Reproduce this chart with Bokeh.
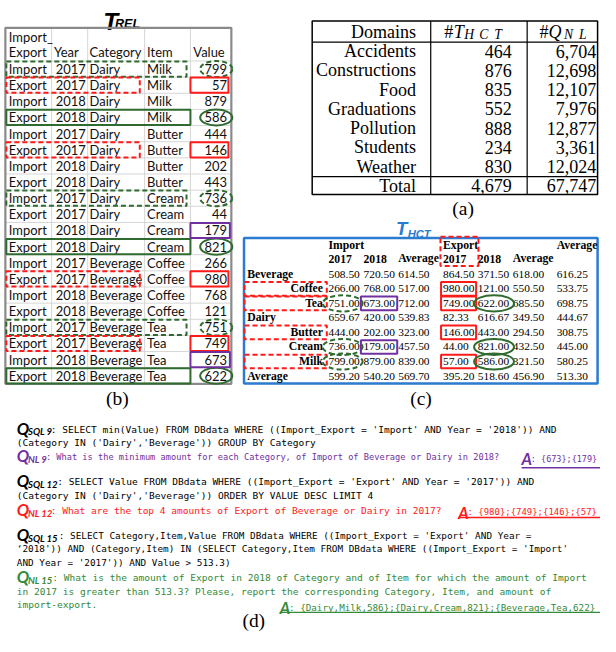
from bokeh.plotting import figure
from bokeh.models import ColumnDataSource, Range1d
from bokeh.core.properties import value
from bokeh.embed import file_html
from bokeh.resources import INLINE

# ---------------- data: T_REL ----------------
rel_flow = ["Import", "Export", "Import", "Export", "Import", "Export", "Import", "Export",
            "Import", "Export", "Import", "Export", "Import", "Export", "Import", "Export",
            "Import", "Export", "Import", "Export"]
rel_year = [2017, 2017, 2018, 2018, 2017, 2017, 2018, 2018, 2017, 2017,
            2018, 2018, 2017, 2017, 2018, 2018, 2017, 2017, 2018, 2018]
rel_category = ["Dairy", "Dairy", "Dairy", "Dairy", "Dairy", "Dairy", "Dairy", "Dairy",
                "Dairy", "Dairy", "Dairy", "Dairy", "Beverage", "Beverage", "Beverage",
                "Beverage", "Beverage", "Beverage", "Beverage", "Beverage"]
rel_item = ["Milk", "Milk", "Milk", "Milk", "Butter", "Butter", "Butter", "Butter",
            "Cream", "Cream", "Cream", "Cream", "Coffee", "Coffee", "Coffee", "Coffee",
            "Tea", "Tea", "Tea", "Tea"]
rel_value = [799, 57, 879, 586, 444, 146, 202, 443, 736, 44,
             179, 821, 266, 980, 768, 121, 751, 749, 673, 622]
rel_headers = ["Year", "Category", "Item", "Value"]
rel_green_dash_rows = [0, 8, 16]
rel_red_rows = [1, 5, 13, 17]
rel_green_rows = [3, 11, 19]
rel_purple_rows = [10, 18]

# ---------------- data: T_HCT ----------------
hct_rows = ["Beverage", "Coffee", "Tea", "Dairy", "Butter", "Cream", "Milk", "Average"]
hct_row_is_group = [True, False, False, True, False, False, False, True]
hct_top_headers = ["Import", "Export", "Average"]
hct_top_cols = [0, 3, 6]
hct_sub_headers = ["2017", "2018", "Average", "2017", "2018", "Average"]
hct_values = [
    [508.50, 720.50, 614.50, 864.50, 371.50, 618.00, 616.25],
    [266.00, 768.00, 517.00, 980.00, 121.00, 550.50, 533.75],
    [751.00, 673.00, 712.00, 749.00, 622.00, 685.50, 698.75],
    [659.67, 420.00, 539.83, 82.33, 616.67, 349.50, 444.67],
    [444.00, 202.00, 323.00, 146.00, 443.00, 294.50, 308.75],
    [736.00, 179.00, 457.50, 44.00, 821.00, 432.50, 445.00],
    [799.00, 879.00, 839.00, 57.00, 586.00, 321.50, 580.25],
    [599.20, 540.20, 569.70, 395.20, 518.60, 456.90, 513.30],
]
hct_red_rows = [1, 2, 4, 6]
hct_green_rows = [2, 5, 6]
hct_purple_rows = [2, 5]

# ---------------- data: table (a) ----------------
dom_names = ["Accidents", "Constructions", "Food", "Graduations", "Pollution", "Students", "Weather"]
dom_thct = [464, 876, 835, 552, 888, 234, 830]
dom_qnl = [6704, 12698, 12107, 7976, 12877, 3361, 12024]
dom_total_thct = 4679
dom_total_qnl = 67747

# ---------------- data: queries (d) ----------------
sql9 = ["SELECT min(Value) FROM DBdata WHERE ((Import_Export = 'Import' AND Year = '2018')) AND",
        "(Category IN ('Dairy','Beverage')) GROUP BY Category"]
nl9 = ["What is the minimum amount for each Category, of Import of Beverage or Dairy in 2018?"]
ans9 = "{673};{179}"
sql12 = ["SELECT Value FROM DBdata WHERE ((Import_Export = 'Export' AND Year = '2017')) AND",
         "(Category IN ('Dairy','Beverage')) ORDER BY VALUE DESC LIMIT 4"]
nl12 = ["What are the top 4 amounts of Export of Beverage or Dairy in 2017?"]
ans12 = "{980};{749};{146};{57}"
sql15 = ["SELECT Category,Item,Value FROM DBdata WHERE ((Import_Export = 'Export' AND Year =",
         "\u20182018')) AND (Category,Item) IN (SELECT Category,Item FROM DBdata WHERE ((Import_Export = 'Import'",
         "AND Year = '2017')) AND Value > 513.3)"]
nl15 = ["What is the amount of Export in 2018 of Category and of Item for which the amount of Import",
        "in 2017 is greater than 513.3? Please, report the corresponding Category, Item, and amount of",
        "import-export."]
ans15 = "{Dairy,Milk,586};{Dairy,Cream,821};{Beverage,Tea,622}"

# ---------------- figure ----------------
W, H = 600, 636
REF_W, REF_H = 616, 652
S = W / REF_W

p = figure(width=W, height=H, x_range=Range1d(0, REF_W), y_range=Range1d(REF_H, 0),
           output_backend="svg", toolbar_location=None, min_border=0,
           x_axis_location=None, y_axis_location=None)
p.xgrid.visible = False
p.ygrid.visible = False
p.outline_line_color = None
p.background_fill_color = "white"

SANS = "Lato"
SERIF = "Liberation Serif"
MONO = "DejaVu Sans Mono"
GREEN = "#2f6b2f"
RED = "#ff1a1a"
PURPLE = "#7030a0"
BLUE = "#2b7bd0"
NLGREEN = "#348a38"


def fs(px):
    return f"{px * S:.2f}px"


def txt(xs, ys, texts, size, color="#000000", font=SANS, style="normal", align="left", baseline="middle"):
    src = ColumnDataSource(dict(x=list(xs), y=list(ys), t=[str(t) for t in texts]))
    p.text(x="x", y="y", text="t", source=src, text_font=value(font), text_font_size=fs(size),
           text_font_style=style, text_color=color, text_align=align, text_baseline=baseline)


def boxes(lefts, rights, tops, bottoms, color, dash="solid", lw=2.0):
    if not lefts:
        return
    p.quad(left=lefts, right=rights, top=tops, bottom=bottoms, fill_color=None,
           line_color=color, line_width=lw, line_dash=dash)


def ovals(xs, ys, w, h, color, dash="solid", lw=2.0):
    p.ellipse(x=xs, y=ys, width=[w] * len(xs), height=[h] * len(xs), fill_color=None,
              line_color=color, line_width=lw, line_dash=dash)


def hlines(x0, x1, ys, color, lw=1.0):
    p.segment(x0=[x0] * len(ys), x1=[x1] * len(ys), y0=ys, y1=ys, line_color=color, line_width=lw)


def vlines(xs, y0, y1, color, lw=1.0):
    p.segment(x0=xs, x1=xs, y0=[y0] * len(xs), y1=[y1] * len(xs), line_color=color, line_width=lw)


# ================= T_REL (b) =================
txt([105.5], [22], ["T"], 25, font="Liberation Sans", style="bold italic", baseline="alphabetic")
txt([117.5], [24], ["REL"], 13, font="Liberation Sans", style="bold italic", baseline="alphabetic")

rl, rr, rt, rb = 5, 237, 28, 393
head_bot = 62
n = len(rel_value)
pitch = (rb - head_bot) / n
ry = [head_bot + (i + 0.5) * pitch for i in range(n)]
col_lines = [52.5, 89.5, 148, 195]

hlines(rl, rr, [head_bot + i * pitch for i in range(n)], "#d6d6d6")
vlines(col_lines, rt, rb, "#d6d6d6")
boxes([rl], [rr], [rt], [rb], "#8a8a8a", lw=2.2)

RF = 13.3
txt([8.5], [37], ["Import_"], RF, color="#111111")
txt([8.5, 55, 91.5, 150.5, 198], [53] * 5, ["Export"] + rel_headers, RF, color="#111111")
txt([8.5] * n, ry, rel_flow, RF, color="#111111")
txt([87.5] * n, ry, rel_year, RF, color="#111111", align="right")
txt([91.5] * n, ry, rel_category, RF, color="#111111")
txt([150.5] * n, ry, rel_item, RF, color="#111111")
txt([232.5] * n, ry, rel_value, RF, color="#111111", align="right")

hh = 7.8
gd = [ry[i] for i in rel_green_dash_rows]
boxes([6] * len(gd), [191] * len(gd), [y - hh for y in gd], [y + hh for y in gd], GREEN, dash="5 3")
ovals([221.5] * len(gd), gd, 33, 16.5, GREEN, dash="5 3")
rd = [ry[i] for i in rel_red_rows]
boxes([6] * len(rd), [143] * len(rd), [y - hh for y in rd], [y + hh for y in rd], RED, dash="5 3")
boxes([195] * len(rd), [234] * len(rd), [y - hh for y in rd], [y + hh for y in rd], RED)
gs = [ry[i] for i in rel_green_rows]
boxes([6] * len(gs), [195] * len(gs), [y - hh for y in gs], [y + hh for y in gs], GREEN)
ovals([221.5] * len(gs), gs, 33, 16.5, GREEN)
pu = [ry[i] for i in rel_purple_rows]
boxes([195] * len(pu), [235.5] * len(pu), [y - hh for y in pu], [y + hh for y in pu], PURPLE)

txt([120], [407.5], ["(b)"], 20, font=SERIF, align="center")

# ================= table (a) =================
al, ar, at, ab = 320, 613, 21, 199
boxes([al], [ar], [at], [ab], "#000000", lw=1.5)
hlines(al, ar, [42.7, 180.5], "#000000", lw=1.2)
vlines([441.7, 540.7], at, ab, "#000000", lw=1.2)

AF = 18.5
row_y = [52 + k * 19.7 for k in range(len(dom_names))]
txt([426.7], [32], ["Domains"], AF, font=SERIF, align="right")
txt([426.7] * len(dom_names), row_y, dom_names, AF, font=SERIF, align="right")
txt([525] * len(dom_names), row_y, [f"{v:,}" for v in dom_thct], AF, font=SERIF, align="right")
txt([611.7] * len(dom_names), row_y, [f"{v:,}" for v in dom_qnl], AF, font=SERIF, align="right")
txt([426.7, 525, 611.7], [190] * 3, ["Total", f"{dom_total_thct:,}", f"{dom_total_qnl:,}"], AF,
    font=SERIF, align="right")
# header math labels
txt([455.7, 553.3], [32, 32], ["#", "#"], AF, font=SERIF)
txt([465.3], [32], ["T"], AF, font=SERIF, style="italic")
txt([562.5], [32], ["Q"], AF, font=SERIF, style="italic")
txt([476 + i * 15.5 for i in range(3)], [34.5] * 3, list("HCT"), 14, font=SERIF, style="italic")
txt([578.5 + i * 15.5 for i in range(2)], [34.5] * 2, list("NL"), 14, font=SERIF, style="italic")

txt([475], [213], ["(a)"], 20, font=SERIF, align="center")

# ================= T_HCT (c) =================
txt([406], [234], ["T"], 19, color=BLUE, font="Liberation Sans", style="bold italic",
    baseline="alphabetic")
txt([418], [239.4], ["HCT"], 11.5, color=BLUE, font="Liberation Sans", style="bold italic",
    baseline="alphabetic")

boxes([250], [613], [243.5], [392.7], BLUE, lw=2.5)

hx = [336.7, 372.7, 408.3, 454.3, 490, 526, 571]
hy = [280.7 + k * 14.9 for k in range(len(hct_rows))]
txt([hx[c] for c in hct_top_cols], [250.7] * 3, hct_top_headers, 12, font=SERIF, style="bold")
txt(hx[:6], [265] * 6, hct_sub_headers, 12, font=SERIF, style="bold")
for k, name in enumerate(hct_rows):
    if hct_row_is_group[k]:
        txt([253.3], [hy[k]], [name], 12, font=SERIF, style="bold")
    else:
        txt([331], [hy[k]], [name], 12, font=SERIF, style="bold", align="right")
    txt(hx, [hy[k]] * 7, [f"{v:.2f}" for v in hct_values[k]], 11.7, font=SERIF)

boxes([451.7], [490.7], [242.3], [272.3], RED, dash="5 3")
rr_y = [hy[k] for k in hct_red_rows]
boxes([250.5] * len(rr_y), [335] * len(rr_y), [y - 7 for y in rr_y], [y + 7 for y in rr_y], RED, dash="5 3")
boxes([452.3] * len(rr_y), [488.3] * len(rr_y), [y - 7 for y in rr_y], [y + 7 for y in rr_y], RED)
gg_y = [hy[k] for k in hct_green_rows]
ovals([351.3] * len(gg_y), gg_y, 41, 16.5, GREEN, dash="5 3")
ovals([506.7] * len(gg_y), gg_y, 41, 16.5, GREEN)
pp_y = [hy[k] for k in hct_purple_rows]
boxes([370] * len(pp_y), [407.3] * len(pp_y), [y - 7 for y in pp_y], [y + 7 for y in pp_y], PURPLE)

txt([431.7], [408], ["(c)"], 20, font=SERIF, align="center")

# ================= queries (d) =================
QX = 16.7
SQLF = 9.8


def qlabel(y, sub, color):
    txt([QX], [y - 0.5], ["Q"], 17, color=color, font=SANS, style="bold italic")
    txt([QX + 11.5], [y + 3], [sub], 9.8, color=color, font=SANS, style="bold italic")


def answer(x, y, text, color, uy, size):
    txt([x], [y], ["A"], 16.5, color=color, font=SANS, style="bold italic")
    txt([x + 9.5], [y], [": " + text], size, color=color, font=MONO)
    p.segment(x0=[x], x1=[REF_W], y0=[uy], y1=[uy], line_color=color, line_width=1.3)


def block(lines, x_first, y0, size, color, step=14.0):
    txt([x_first] + [QX] * (len(lines) - 1), [y0 + i * step for i in range(len(lines))],
        [": " + lines[0]] + lines[1:], size, color=color, font=MONO)


qlabel(439.3, "SQL 9", "#000000")
block(sql9, 51.5, 439.3, SQLF, "#000000")
qlabel(467.7, "NL 9", PURPLE)
block(nl9, 46.6, 467.7, 8.9, PURPLE)
answer(535, 470, ans9, PURPLE, 479, 8.7)

qlabel(493.3, "SQL 12", "#000000")
block(sql12, 58.2, 493.3, SQLF, "#000000")
qlabel(523.3, "NL 12", RED)
block(nl12, 51.5, 523.3, SQLF, RED)
answer(470, 524.5, ans12, RED, 530, 9.2)

qlabel(548.3, "SQL 15", "#000000")
block(sql15, 59.9, 548.3, 9.6, "#000000", step=13.7)
qlabel(591.7, "NL 15", NLGREEN)
block(nl15, 53.2, 591.7, SQLF, NLGREEN, step=13.8)
answer(286.7, 622, ans15, NLGREEN, 627.3, 9.5)

txt([260], [636], ["(d)"], 20, font=SERIF, align="center")

open("out.html", "w").write(file_html(p, INLINE))
